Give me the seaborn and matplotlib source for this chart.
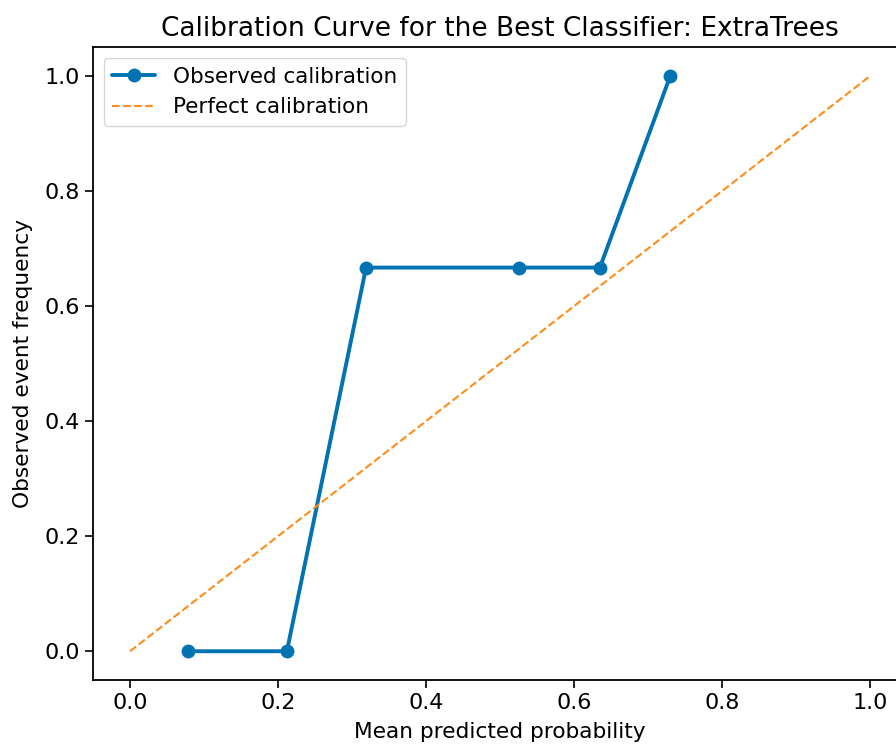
import matplotlib
matplotlib.use("Agg")
import matplotlib.pyplot as plt
import seaborn as sns
import pandas as pd

# Calibration data
mean_pred = [0.078, 0.212, 0.319, 0.526, 0.635, 0.730]
frac_pos = [0.0, 0.0, 0.667, 0.667, 0.667, 1.0]
diag = [0.0, 1.0]

df = pd.DataFrame({'mean_pred': mean_pred, 'frac_pos': frac_pos})

sns.set_style("ticks")
plt.rcParams['font.family'] = ['DejaVu Sans']
plt.rcParams['text.color'] = 'black'
plt.rcParams['axes.labelcolor'] = 'black'

fig = plt.figure(figsize=(8.96, 7.47), dpi=100)
ax = fig.add_axes([0.1038, 0.0897, 0.9085, 0.847])

sns.lineplot(data=df, x='mean_pred', y='frac_pos', marker='o', markersize=10,
             linewidth=2.8, color='#0173b2', markeredgewidth=0,
             label='Observed calibration', ax=ax)
ax.plot(diag, diag, linestyle='--', color='#ff8c1a', linewidth=1.5,
        label='Perfect calibration')

ax.set_xlim(-0.05, 1.05)
ax.set_ylim(-0.05, 1.05)
ax.set_xticks([0.0, 0.2, 0.4, 0.6, 0.8, 1.0])
ax.set_yticks([0.0, 0.2, 0.4, 0.6, 0.8, 1.0])
ax.tick_params(labelsize=16, length=6, width=1.2, colors='black')
for s in ax.spines.values():
    s.set_linewidth(1.3)
    s.set_color('black')

ax.set_title("Calibration Curve for the Best Classifier: ExtraTrees", fontsize=19, pad=8)
ax.set_xlabel("Mean predicted probability", fontsize=15.6, labelpad=6)
ax.set_ylabel("Observed event frequency", fontsize=15.6, labelpad=8)
ax.legend(loc='upper left', fontsize=15.5, frameon=True)

fig.savefig('out.png', dpi=100)
